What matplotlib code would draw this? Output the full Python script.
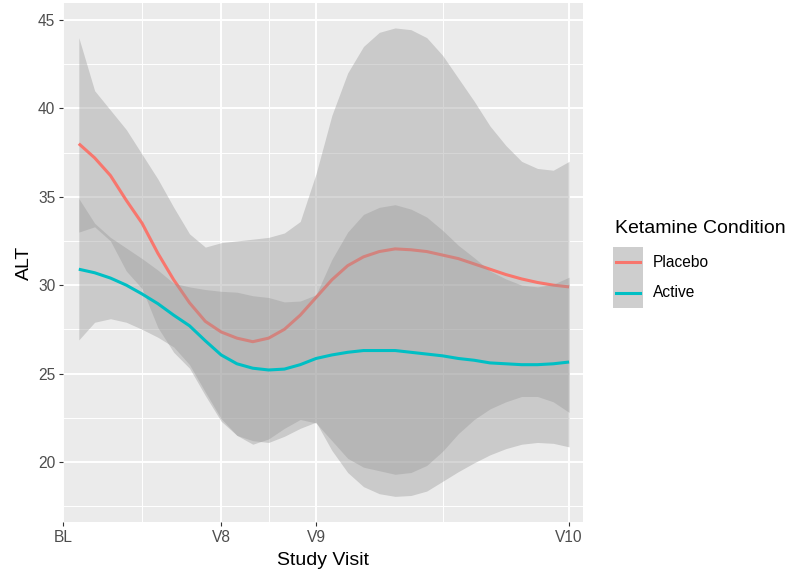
import numpy as np
import matplotlib
matplotlib.use('Agg')
import matplotlib.pyplot as plt
from matplotlib.patches import Rectangle
from matplotlib.lines import Line2D

plt.rcParams['font.family'] = ['Liberation Sans', 'DejaVu Sans']

# smoothed ALT by study visit (x in weeks-ish units, BL = 0)
visit_x = np.arange(0.5, 16.01, 0.5)
tick_pos = [0, 5, 8, 16]
tick_lab = ['BL', 'V8', 'V9', 'V10']

placebo_fit = [38.0, 37.2, 36.2, 34.8, 33.5, 31.8, 30.3, 29.0, 27.95, 27.35, 27.0, 26.8,
               27.0, 27.5, 28.3, 29.3, 30.3, 31.1, 31.6, 31.9, 32.05, 32.0, 31.9, 31.7,
               31.5, 31.2, 30.9, 30.6, 30.35, 30.15, 30.0, 29.9]
placebo_lo = [33.0, 33.3, 32.5, 30.8, 29.8, 27.6, 26.2, 25.3, 23.75, 22.3, 21.5, 21.0,
              21.3, 21.9, 22.4, 22.2, 21.2, 20.2, 19.7, 19.5, 19.3, 19.4, 19.8, 20.6,
              21.6, 22.4, 23.0, 23.4, 23.7, 23.7, 23.4, 22.8]
placebo_hi = [44.0, 41.0, 39.9, 38.8, 37.4, 36.0, 34.4, 32.9, 32.15, 32.4, 32.5, 32.6,
              32.7, 32.95, 33.6, 36.3, 39.6, 42.0, 43.5, 44.3, 44.55, 44.45, 44.0, 43.0,
              41.7, 40.4, 39.0, 37.9, 37.0, 36.6, 36.5, 37.0]

active_fit = [30.9, 30.7, 30.4, 30.0, 29.5, 28.95, 28.3, 27.7, 26.85, 26.05, 25.55, 25.3,
              25.2, 25.25, 25.5, 25.85, 26.05, 26.2, 26.3, 26.3, 26.3, 26.2, 26.1, 26.0,
              25.85, 25.75, 25.6, 25.55, 25.5, 25.5, 25.55, 25.65]
active_lo = [26.9, 27.9, 28.1, 27.9, 27.5, 27.05, 26.5, 25.5, 23.95, 22.45, 21.5, 21.2,
             21.1, 21.45, 21.9, 22.25, 20.65, 19.4, 18.6, 18.2, 18.05, 18.1, 18.35, 18.9,
             19.45, 19.95, 20.4, 20.75, 21.0, 21.1, 21.05, 20.85]
active_hi = [34.9, 33.5, 32.7, 32.1, 31.5, 30.85, 30.1, 29.9, 29.75, 29.65, 29.6, 29.4,
             29.3, 29.05, 29.1, 29.45, 31.45, 33.0, 34.0, 34.4, 34.55, 34.3, 33.85, 33.1,
             32.25, 31.55, 30.8, 30.35, 30.0, 29.9, 30.05, 30.45]

groups = ['Placebo', 'Active']
colours = ['#F8766D', '#00BFC4']
fits = [placebo_fit, active_fit]
lows = [placebo_lo, active_lo]
highs = [placebo_hi, active_hi]

W, H = 786, 574
fig = plt.figure(figsize=(W / 100, H / 100), dpi=100)
ax = fig.add_axes([63 / W, 1 - 522 / H, 520 / W, 519 / H])
ax.set_facecolor('#EBEBEB')
for s in ax.spines.values():
    s.set_visible(False)

# ribbon then line for each group, same order as ggplot
z = 2
for fit, lo, hi, c in zip(fits, lows, highs, colours):
    ax.fill_between(visit_x, lo, hi, color='#999999', alpha=0.4, linewidth=0, zorder=z)
    ax.plot(visit_x, fit, color=c, lw=2.2, zorder=z + 0.1, solid_capstyle='butt',
            solid_joinstyle='round')
    z += 0.2

ax.set_xlim(0, 16.44)
ax.set_ylim(16.6, 45.96)
ax.set_xticks(tick_pos)
ax.set_xticklabels(tick_lab)
ax.set_yticks([20, 25, 30, 35, 40, 45])
ax.set_xticks([2.5, 6.5, 12], minor=True)
ax.set_yticks(np.arange(17.5, 45, 5), minor=True)
ax.set_axisbelow(True)
ax.grid(which='major', color='white', lw=1.4)
ax.grid(which='minor', color='white', lw=0.7)
ax.tick_params(which='minor', length=0)
ax.tick_params(which='major', length=3, width=0.8, color='#333333',
               labelsize=11.2, labelcolor='#4D4D4D', pad=2.5)

ax.set_xlabel('Study Visit', fontsize=14, labelpad=5)
ax.set_ylabel('ALT', fontsize=14, labelpad=4)

# legend drawn by hand to match the ggplot guide
def fx(px):
    return px / W

def fy(py):
    return 1 - py / H

fig.text(fx(615), fy(229), 'Ketamine Condition', fontsize=14, va='center')
for i, (g, c) in enumerate(zip(groups, colours)):
    top = 247 + 30.5 * i
    box = (fx(613), fy(top + 30.5))
    fig.add_artist(Rectangle(box, 30 / W, 30.5 / H, transform=fig.transFigure,
                             facecolor='#F2F2F2', edgecolor='none'))
    fig.add_artist(Rectangle(box, 30 / W, 30.5 / H, transform=fig.transFigure,
                             facecolor='#999999', alpha=0.4, edgecolor='none'))
    fig.add_artist(Line2D([fx(616), fx(640)], [fy(top + 15.25)] * 2, color=c, lw=2.2,
                          transform=fig.transFigure))
    fig.text(fx(653), fy(top + 15.25), g, fontsize=11.2, va='center')

fig.savefig('out.png', dpi=100)
